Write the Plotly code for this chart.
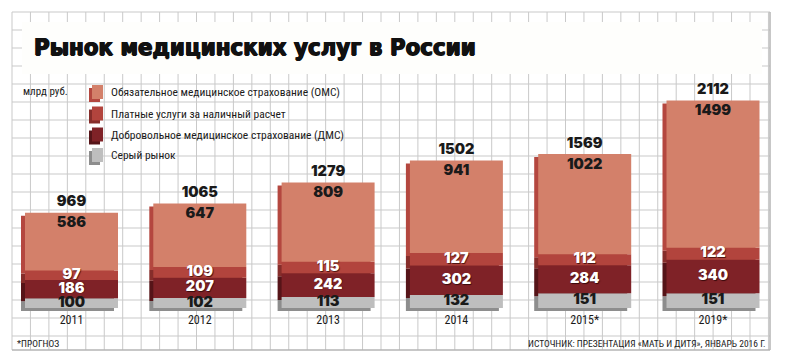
import numpy as np
import plotly.graph_objects as go

# ---------------- data ----------------
years = ["2011", "2012", "2013", "2014", "2015*", "2019*"]
series_names = [
    "Серый рынок",
    "Добровольное медицинское страхование (ДМС)",
    "Платные услуги за наличный расчет",
    "Обязательное медицинское страхование (ОМС)",
]
grey_market = [100, 102, 113, 132, 151, 151]
dms = [186, 207, 242, 302, 284, 340]
paid = [97, 109, 115, 127, 112, 122]
oms = [586, 647, 809, 941, 1022, 1499]
totals = [969, 1065, 1279, 1502, 1569, 2112]

title_text = "Рынок медицинских услуг в России"
unit_text = "млрд руб."
note_text = "*ПРОГНОЗ"
source_text = "ИСТОЧНИК: ПРЕЗЕНТАЦИЯ «МАТЬ И ДИТЯ», ЯНВАРЬ 2016 Г."

# ---------------- styles ----------------
front_colors = ["#bebebe", "#7f2227", "#b2443d", "#d3806a"]
side_colors = ["#8d8d8d", "#561418", "#862d2a", "#b4473f"]
label_colors = ["#1a1a1a", "#ffffff", "#ffffff", "#1a1a1a"]
label_shadows = ["none", "0.8px 0.8px 0.8px #3a0a0c", "0.8px 0.8px 0.8px #4a1210", "none"]

NARROW = "Roboto Condensed, DejaVu Sans Condensed, Roboto, sans-serif"
HEAVY = "Inter, Roboto, DejaVu Sans, sans-serif"

W, H = 788, 360
PX_PER_UNIT_Y = 0.0982
BASE_PY = 308.0
X0_PX, DX_PX = 71.5, 128.3
y_lo = (BASE_PY - H) / PX_PER_UNIT_Y
y_hi = BASE_PY / PX_PER_UNIT_Y
x_lo = (0 - X0_PX) / DX_PX
x_hi = (W - X0_PX) / DX_PX

BAR_W = 93 / DX_PX
SHIFT_X = 4 / DX_PX
SHIFT_Y = 3 / PX_PER_UNIT_Y

def fx(px):
    return px / W

def fy(py):
    return 1 - py / H

data = np.array([grey_market, dms, paid, oms], dtype=float)
tops = np.cumsum(data, axis=0)
bases = tops - data
xpos = np.arange(len(years), dtype=float)

fig = go.Figure()

# 3D side/bottom faces
for i in range(4):
    fig.add_trace(go.Bar(
        x=xpos - SHIFT_X, y=data[i], base=bases[i] - SHIFT_Y, width=BAR_W,
        marker=dict(color=side_colors[i], line=dict(width=0)),
        showlegend=False, hoverinfo="skip",
    ))
# front faces
for i in range(4):
    fig.add_trace(go.Bar(
        x=xpos, y=data[i], base=bases[i], width=BAR_W, name=series_names[i],
        marker=dict(color=front_colors[i], line=dict(width=0)),
        showlegend=False,
    ))

# segment labels
for i in range(4):
    if i == 3:
        ys = tops[i] - 11 / PX_PER_UNIT_Y
    else:
        ys = bases[i] + data[i] / 2
    fig.add_trace(go.Scatter(
        x=xpos, y=ys, mode="text", text=[str(int(v)) for v in data[i]],
        textfont=dict(family=HEAVY, size=14.5, color=label_colors[i], weight=900,
                      shadow=label_shadows[i]),
        showlegend=False, hoverinfo="skip",
    ))
# totals
fig.add_trace(go.Scatter(
    x=xpos, y=np.array(totals) + 10 / PX_PER_UNIT_Y, mode="text",
    text=[str(t) for t in totals],
    textfont=dict(family=HEAVY, size=14.5, color="#1a1a1a", weight=900),
    showlegend=False, hoverinfo="skip",
))
# year labels
fig.add_trace(go.Scatter(
    x=xpos, y=[-13 / PX_PER_UNIT_Y] * len(years), mode="text", text=years,
    textfont=dict(family=NARROW, size=12, color="#1a1a1a"),
    showlegend=False, hoverinfo="skip",
))

# ---------------- grid paper ----------------
shapes = []
grid_col = "#c9c9c9"
gx = 12.0
while gx < 769:
    shapes.append(dict(type="line", xref="paper", yref="paper", x0=fx(gx), x1=fx(gx),
                       y0=fy(12), y1=fy(350), line=dict(color=grid_col, width=1), layer="below"))
    gx += 18.45
gy = 12.0
while gy < 349:
    shapes.append(dict(type="line", xref="paper", yref="paper", x0=fx(12), x1=fx(770),
                       y0=fy(gy), y1=fy(gy), line=dict(color=grid_col, width=1), layer="below"))
    gy += 18.0
shapes.append(dict(type="line", xref="paper", yref="paper", x0=fx(770), x1=fx(770),
                   y0=fy(12), y1=fy(350), line=dict(color="#b5b5b5", width=1.5), layer="below"))
shapes.append(dict(type="line", xref="paper", yref="paper", x0=fx(12), x1=fx(770),
                   y0=fy(350), y1=fy(350), line=dict(color="#b5b5b5", width=1.5), layer="below"))
# title box
shapes.append(dict(type="rect", xref="paper", yref="paper", x0=fx(22), x1=fx(762),
                   y0=fy(74), y1=fy(22), fillcolor="#fefefc",
                   line=dict(width=0), layer="below"))

# legend swatches (top to bottom: ОМС, платные, ДМС, серый)
legend_rows = [85, 106.5, 127.5, 148]
annotations = []
for r, i in enumerate([3, 2, 1, 0]):
    top = legend_rows[r]
    shapes.append(dict(type="rect", xref="paper", yref="paper", x0=fx(89), x1=fx(100),
                       y0=fy(top + 17), y1=fy(top + 3), fillcolor=side_colors[i],
                       line=dict(width=0)))
    shapes.append(dict(type="rect", xref="paper", yref="paper", x0=fx(92), x1=fx(103),
                       y0=fy(top + 14), y1=fy(top), fillcolor=front_colors[i],
                       line=dict(width=0)))
    annotations.append(dict(xref="paper", yref="paper", x=fx(109), y=fy(top + 7),
                            xanchor="left", yanchor="middle", showarrow=False,
                            text=series_names[i],
                            font=dict(family=NARROW, size=11.5, color="#1a1a1a")))

annotations.append(dict(xref="paper", yref="paper", x=fx(32), y=fy(47), xanchor="left",
                        yanchor="middle", showarrow=False, text=title_text,
                        font=dict(family="DejaVu Sans Condensed, DejaVu Sans, sans-serif",
                                  size=23.8, color="#111111", weight="bold",
                                  shadow="0.7px 0 0 #111111, -0.7px 0 0 #111111, 0 0.5px 0 #111111")))
annotations.append(dict(xref="paper", yref="paper", x=fx(21), y=fy(91), xanchor="left",
                        yanchor="middle", showarrow=False, text=unit_text,
                        font=dict(family=NARROW, size=11, color="#1a1a1a")))
annotations.append(dict(xref="paper", yref="paper", x=fx(15), y=fy(343), xanchor="left",
                        yanchor="middle", showarrow=False, text=note_text,
                        font=dict(family=NARROW, size=9.5, color="#1a1a1a")))
annotations.append(dict(xref="paper", yref="paper", x=fx(768), y=fy(343), xanchor="right",
                        yanchor="middle", showarrow=False, text=source_text,
                        font=dict(family=NARROW, size=9.5, color="#1a1a1a")))

fig.update_layout(
    width=W, height=H, margin=dict(l=0, r=0, t=0, b=0),
    paper_bgcolor="white", plot_bgcolor="rgba(0,0,0,0)",
    barmode="overlay", showlegend=False,
    xaxis=dict(range=[x_lo, x_hi], visible=False, fixedrange=True),
    yaxis=dict(range=[y_lo, y_hi], visible=False, fixedrange=True),
    shapes=shapes, annotations=annotations,
)

fig.write_html("out.html", config={"displayModeBar": False},
               post_script="document.body.style.margin='0px';")
